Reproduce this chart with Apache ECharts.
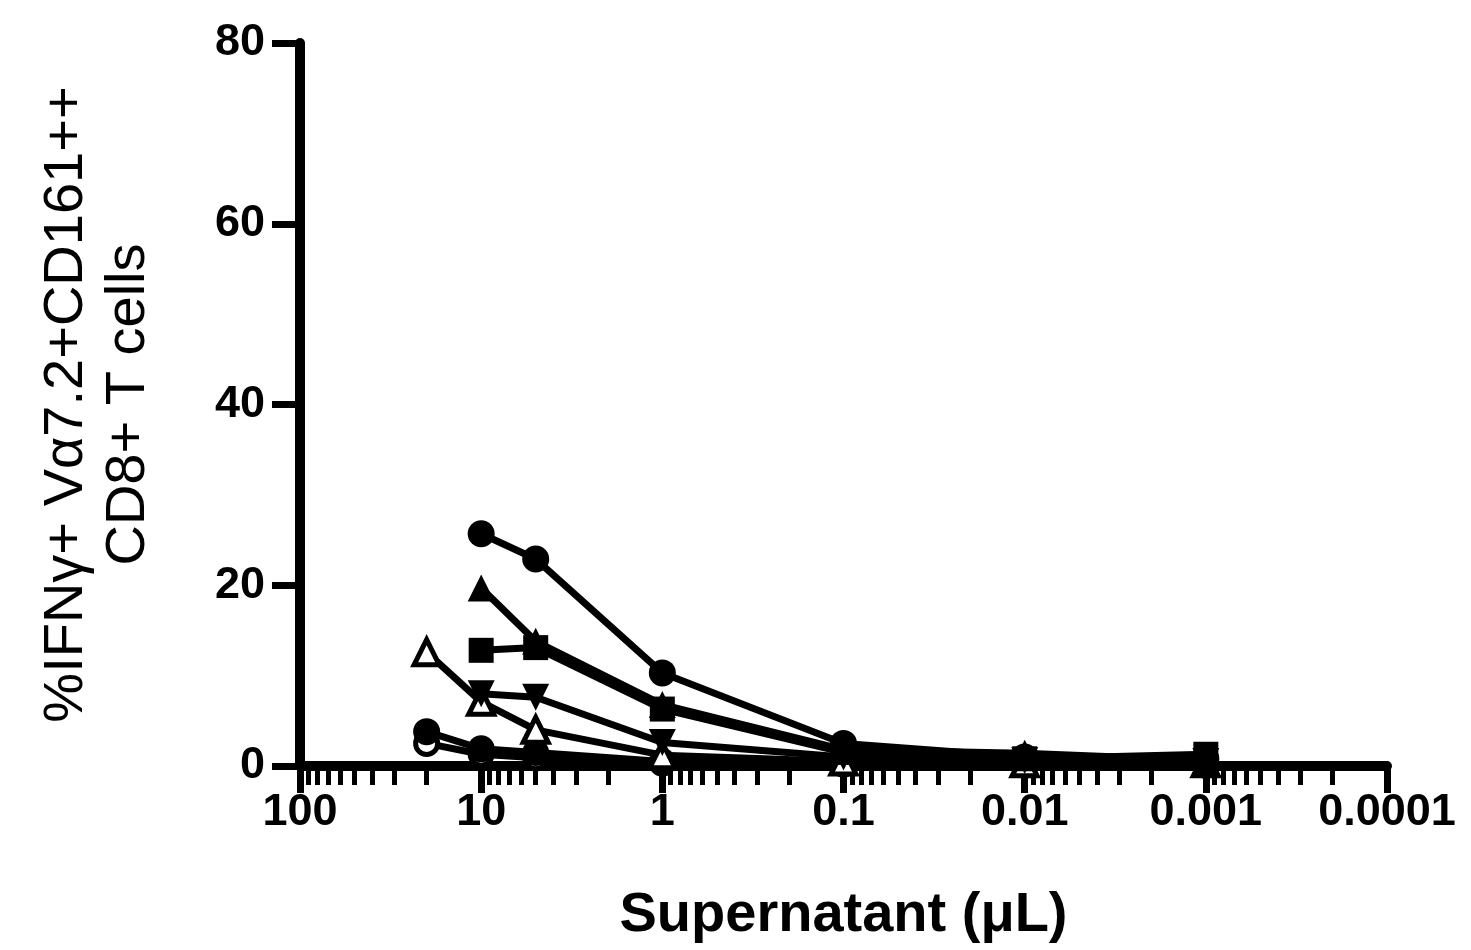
<!DOCTYPE html>
<html>
<head>
<meta charset="utf-8">
<script src="https://cdn.jsdelivr.net/npm/echarts@6/dist/echarts.min.js"></script>
<style>
html,body{margin:0;padding:0;background:#fff;}
#chart{width:1471px;height:950px;}
</style>
</head>
<body>
<div id="chart"></div>
<script>
// Supernatant volumes (µL)
const xFull = [20, 10, 5, 1, 0.1, 0.01, 0.001];
const xFrom10 = [10, 5, 1, 0.1, 0.01, 0.001];
const xTickLabels = ['100', '10', '1', '0.1', '0.01', '0.001', '0.0001'];
const yTicks = [0, 20, 40, 60, 80];

// % IFNγ+ Vα7.2+CD161++ CD8+ T cells, one array per donor
const filledCircleHigh = [25.7, 22.9, 10.3, 2.5, 1.0, 0.8];
const filledTriangle   = [19.7, 13.8, 6.8, 1.8, 1.4, 0.6];
const filledSquare     = [12.8, 13.1, 6.3, 1.5, 0.8, 1.3];
const invertedTriangle = [8.0, 7.6, 2.6, 1.0, 0.6, 0.5];
const openTriangle     = [12.6, 7.1, 4.0, 1.2, 0.5, 0.3, 0.3];
const filledCircleLow  = [3.8, 1.9, 1.5, 0.5, 0.3, 0.2, 0.2];
const openCircleLow    = [2.5, 1.3, 0.9, 0.3, 0.2, 0.1, 0.1];

const chart = echarts.init(document.getElementById('chart'), null, {renderer: 'canvas'});
const FONT = '"Liberation Sans", Arial, Helvetica, sans-serif';

function pairs(xs, ys) { return xs.map((x, i) => [x, ys[i]]); }

function mk(name, xs, ys, symbol, opts) {
  return Object.assign({
    name: name,
    type: 'line',
    data: pairs(xs, ys),
    symbol: symbol,
    symbolSize: 27,
    showSymbol: true,
    lineStyle: {color: '#000', width: 7},
    itemStyle: {color: '#000', borderColor: '#000', borderWidth: 0},
    emphasis: {disabled: true},
    animation: false,
    clip: false
  }, opts || {});
}

const series = [
  mk('Donor 7', xFull, openCircleLow, 'circle', {itemStyle: {color: '#fff', borderColor: '#000', borderWidth: 5}, symbolSize: 22}),
  mk('Donor 6', xFull, filledCircleLow, 'circle'),
  mk('Donor 5', xFull, openTriangle, 'triangle', {itemStyle: {color: '#fff', borderColor: '#000', borderWidth: 5}, symbolSize: 25}),
  mk('Donor 4', xFrom10, invertedTriangle, 'triangle', {symbolRotate: 180}),
  mk('Donor 2', xFrom10, filledTriangle, 'triangle'),
  mk('Donor 3', xFrom10, filledSquare, 'rect', {symbolSize: 25}),
  mk('Donor 1', xFrom10, filledCircleHigh, 'circle')
];

chart.setOption({
  backgroundColor: '#fff',
  animation: false,
  grid: {left: 300, right: 84, top: 43, bottom: 184, containLabel: false},
  xAxis: {
    type: 'log',
    logBase: 10,
    inverse: true,
    min: 0.0001,
    max: 100,
    interval: 1,
    name: 'Supernatant (\u03bcL)',
    nameLocation: 'middle',
    nameGap: 122,
    nameTextStyle: {fontFamily: FONT, fontWeight: 'bold', fontSize: 56, color: '#000'},
    axisLine: {show: true, onZero: false, lineStyle: {color: '#000', width: 10}},
    axisTick: {show: true, inside: false, length: 27, lineStyle: {color: '#000', width: 7}},
    minorTick: {show: true, splitNumber: 9, length: 19, lineStyle: {color: '#000', width: 5}},
    splitLine: {show: false},
    minorSplitLine: {show: false},
    axisLabel: {
      margin: 24,
      fontFamily: FONT, fontWeight: 'bold', fontSize: 45, color: '#000',
      formatter: function (v) {
        const idx = Math.round(2 - Math.log10(v));
        return xTickLabels[idx] !== undefined ? xTickLabels[idx] : '';
      }
    }
  },
  yAxis: {
    type: 'value',
    min: yTicks[0],
    max: yTicks[yTicks.length - 1],
    interval: 20,
    name: '%IFN\u03b3+ V\u03b17.2+CD161++\nCD8+ T cells',
    nameLocation: 'middle',
    nameGap: 140,
    nameRotate: 90,
    nameTextStyle: {fontFamily: FONT, fontSize: 56, color: '#000', lineHeight: 62, align: 'center'},
    axisLine: {show: true, lineStyle: {color: '#000', width: 10}},
    axisTick: {show: true, length: 28, lineStyle: {color: '#000', width: 7}},
    splitLine: {show: false},
    axisLabel: {margin: 35, fontFamily: FONT, fontWeight: 'bold', fontSize: 45, color: '#000'}
  },
  series: series
});
</script>
</body>
</html>
